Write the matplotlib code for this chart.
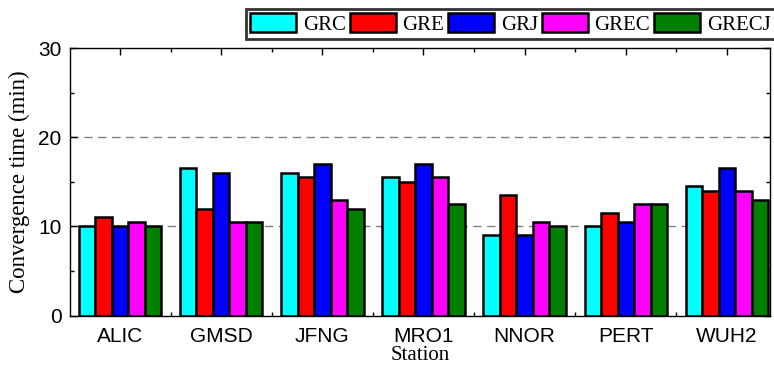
import numpy as np
import matplotlib
matplotlib.use("Agg")
from matplotlib import pyplot as plt
from matplotlib.ticker import MultipleLocator, FixedLocator

# Data
stations = ["ALIC", "GMSD", "JFNG", "MRO1", "NNOR", "PERT", "WUH2"]
series   = ["GRC", "GRE", "GRJ", "GREC", "GRECJ"]
grc   = [10.0, 16.5, 16.0, 15.5,  9.0, 10.0, 14.5]
gre   = [11.0, 12.0, 15.5, 15.0, 13.5, 11.5, 14.0]
grj   = [10.0, 16.0, 17.0, 17.0,  9.0, 10.5, 16.5]
grec  = [10.5, 10.5, 13.0, 15.5, 10.5, 12.5, 14.0]
grecj = [10.0, 10.5, 12.0, 12.5, 10.0, 12.5, 13.0]
colors = ["#00FFFF", "#FF0000", "#0000FF", "#FF00FF", "#007F00"]

valuesL = [grc, gre, grj, grec, grecj]
x = np.arange(len(stations))
w = 0.163

fig = plt.figure(figsize=(7.74, 3.67), dpi=100)
ax = fig.add_axes([0.0904, 0.1403, 0.9044, 0.7289])

for i in range(len(series)):
    ax.bar(x + (i - 2) * w, valuesL[i], width=w, color=colors[i],
           edgecolor="black", linewidth=1.8, label=series[i], zorder=3)

# Dashed reference lines
for yv in [10, 20]:
    ax.axhline(yv, color="#808080", linestyle=(0, (6, 4)), linewidth=1.0, zorder=1)

ax.set_xlim(-0.494, 6.425)
ax.set_ylim(0, 30)
ax.set_xticks(x)
ax.set_xticklabels(stations, fontfamily="Liberation Sans", fontsize=15)
ax.xaxis.set_minor_locator(FixedLocator(x[:-1] + 0.5))
ax.yaxis.set_major_locator(MultipleLocator(10))
ax.yaxis.set_minor_locator(MultipleLocator(5))
for lab in ax.get_yticklabels():
    lab.set_fontfamily("Liberation Sans")
    lab.set_fontsize(15)
ax.tick_params(which="both", direction="in", top=True, right=True)
ax.tick_params(which="major", length=5, width=1)
ax.tick_params(which="minor", length=3, width=1)
ax.tick_params(axis="x", which="major", pad=8)
ax.tick_params(axis="y", which="major", pad=6)

ax.set_xlabel("Station", fontfamily="Liberation Serif", fontsize=15, labelpad=0)
ax.set_ylabel("Convergence time (min)", fontfamily="Liberation Serif", fontsize=16.5, labelpad=6)
for s in ax.spines.values():
    s.set_linewidth(1.0)

leg = fig.legend(loc="upper left", bbox_to_anchor=(246 / 774, 1 - 9 / 367), ncol=5,
                 prop={"family": "Liberation Serif", "size": 15},
                 handlelength=2.2, handleheight=1.05, handletextpad=0.32,
                 columnspacing=0.2, borderpad=0.2, borderaxespad=0,
                 frameon=True, fancybox=False, shadow=False)
leg.get_frame().set_edgecolor("black")
leg.get_frame().set_linewidth(2.0)

plt.savefig("out.png", dpi=100)
